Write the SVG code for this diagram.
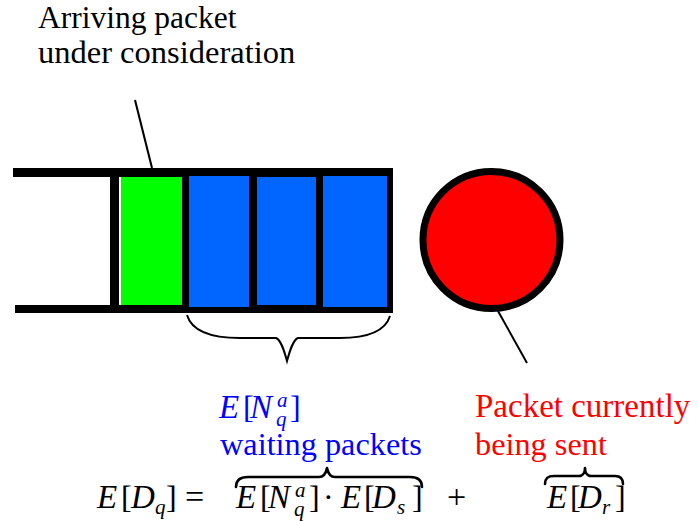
<svg xmlns="http://www.w3.org/2000/svg" width="698" height="521" viewBox="0 0 698 521">
<style>
.lead{stroke:#000;stroke-width:2;fill:none}
.brace{stroke:#000;stroke-width:2.6;fill:none;stroke-linecap:round;stroke-linejoin:round}
</style>
<rect width="698" height="521" fill="#fff"/>

<g id="queue">
  <rect x="13" y="168" width="380" height="9" fill="#000"/>
  <rect x="15" y="305" width="378" height="8" fill="#000"/>
  <rect x="110" y="168" width="283" height="145" fill="#000"/>
  <rect x="119" y="177" width="2" height="128" fill="#fff"/>
  <rect x="121" y="177" width="61" height="128" fill="#00ff00"/>
  <rect x="189" y="176" width="60" height="131" fill="#0066ff"/>
  <rect x="257" y="177" width="59" height="128" fill="#0066ff"/>
  <rect x="323" y="176" width="64" height="131" fill="#0066ff"/>
</g>

<g id="server">
  <circle cx="491.5" cy="240" r="68.5" fill="#ff0000" stroke="#000" stroke-width="7"/>
</g>

<g id="arriving-label">
  <text x="38" y="28" font-family="Liberation Serif, serif" font-size="31.5" fill="#000">Arriving packet</text>
  <text x="38" y="63" font-family="Liberation Serif, serif" font-size="32.5" fill="#000">under consideration</text>
</g>

<g id="waiting-label">
  <text x="219" y="418" font-family="Liberation Serif, serif" font-size="33" font-style="italic" fill="#0000ff">E</text>
  <text x="243" y="418" font-family="Liberation Serif, serif" font-size="32" fill="#0000ff">[</text>
  <text x="250" y="418" font-family="Liberation Serif, serif" font-size="33" font-style="italic" fill="#0000ff">N</text>
  <text x="277" y="407" font-family="Liberation Serif, serif" font-size="21" font-style="italic" fill="#0000ff">a</text>
  <text x="276" y="426" font-family="Liberation Serif, serif" font-size="21" font-style="italic" fill="#0000ff">q</text>
  <text x="290" y="418" font-family="Liberation Serif, serif" font-size="32" fill="#0000ff">]</text>
  <text x="220" y="455" font-family="Liberation Serif, serif" font-size="32.3" fill="#0000ff">waiting packets</text>
</g>

<g id="sent-label">
  <text x="475" y="417" font-family="Liberation Serif, serif" font-size="33" fill="#ff0000">Packet currently</text>
  <text x="475" y="455" font-family="Liberation Serif, serif" font-size="32.3" fill="#ff0000">being sent</text>
</g>

<g id="formula">
  <text x="97" y="508" font-family="Liberation Serif, serif" font-size="33" font-style="italic" fill="#000">E</text>
  <text x="121" y="508" font-family="Liberation Serif, serif" font-size="32" fill="#000">[</text>
  <text x="131" y="508" font-family="Liberation Serif, serif" font-size="33" font-style="italic" fill="#000">D</text>
  <text x="155" y="514" font-family="Liberation Serif, serif" font-size="21" font-style="italic" fill="#000">q</text>
  <text x="166" y="508" font-family="Liberation Serif, serif" font-size="32" fill="#000">]</text>
  <text x="185" y="508" font-family="Liberation Serif, serif" font-size="34" fill="#000">=</text>

  <text x="236" y="508" font-family="Liberation Serif, serif" font-size="33" font-style="italic" fill="#000">E</text>
  <text x="260" y="508" font-family="Liberation Serif, serif" font-size="32" fill="#000">[</text>
  <text x="268" y="508" font-family="Liberation Serif, serif" font-size="33" font-style="italic" fill="#000">N</text>
  <text x="295" y="497" font-family="Liberation Serif, serif" font-size="21" font-style="italic" fill="#000">a</text>
  <text x="294" y="516" font-family="Liberation Serif, serif" font-size="21" font-style="italic" fill="#000">q</text>
  <text x="309" y="508" font-family="Liberation Serif, serif" font-size="32" fill="#000">]</text>
  <text x="323" y="508" font-family="Liberation Serif, serif" font-size="32" fill="#000">·</text>
  <text x="341" y="508" font-family="Liberation Serif, serif" font-size="33" font-style="italic" fill="#000">E</text>
  <text x="364" y="508" font-family="Liberation Serif, serif" font-size="32" fill="#000">[</text>
  <text x="372" y="508" font-family="Liberation Serif, serif" font-size="33" font-style="italic" fill="#000">D</text>
  <text x="397" y="514" font-family="Liberation Serif, serif" font-size="21" font-style="italic" fill="#000">s</text>
  <text x="412" y="508" font-family="Liberation Serif, serif" font-size="32" fill="#000">]</text>

  <text x="447" y="508" font-family="Liberation Serif, serif" font-size="34" fill="#000">+</text>

  <text x="547" y="508" font-family="Liberation Serif, serif" font-size="33" font-style="italic" fill="#000">E</text>
  <text x="570" y="508" font-family="Liberation Serif, serif" font-size="32" fill="#000">[</text>
  <text x="578" y="508" font-family="Liberation Serif, serif" font-size="33" font-style="italic" fill="#000">D</text>
  <text x="602" y="514" font-family="Liberation Serif, serif" font-size="21" font-style="italic" fill="#000">r</text>
  <text x="615" y="508" font-family="Liberation Serif, serif" font-size="32" fill="#000">]</text>

  <path class="brace" d="M236,487 C236,480 240,477 248,477 L319,477 C324,477 326,473 327,468 C328,473 330,477 335,477 L410,477 C418,477 422,480 422,487"/>
  <path class="brace" d="M545,484 C545,478 548,476 554,476 L579,476 C583,476 585,472 585,468 C585,472 587,476 591,476 L615,476 C620,476 623,478 623,484"/>
</g>

<g id="connectors">
  <line class="lead" x1="135" y1="100" x2="152" y2="168"/>
  <line class="lead" x1="498" y1="311" x2="527" y2="363"/>
  <path class="lead" d="M187,315 C192,332 212,338 240,338 L276,338 C281,340 284,350 287,361 C290,350 293,340 298,338 L340,338 C366,338 385,332 390,316"/>
</g>
</svg>
